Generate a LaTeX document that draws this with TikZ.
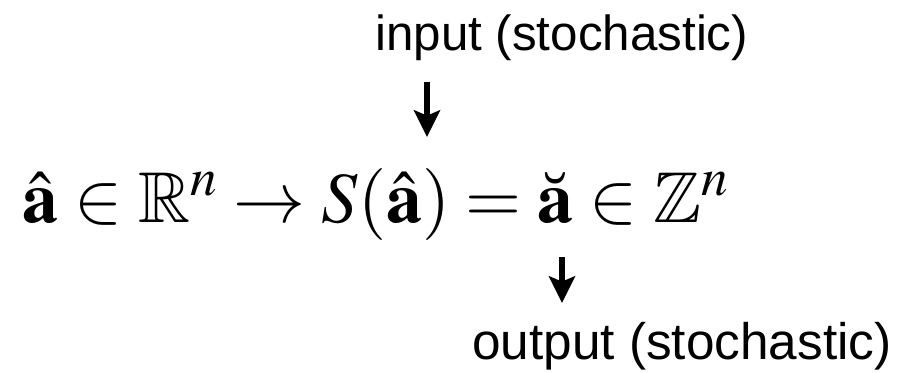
\documentclass[tikz,border=0pt]{standalone}
\usepackage{amsmath,amssymb}
\usepackage{mathptmx}
\usepackage[no-math]{fontspec}
\newfontfamily\labelfont{Liberation Sans}
\usetikzlibrary{arrows.meta,positioning}

\begin{document}
\begin{tikzpicture}[x=0.75pt, y=-0.75pt, >={Stealth[length=20pt,width=19.5pt,inset=4pt]},
    every node/.style={inner sep=0pt},
    lbl/.style={font=\labelfont, anchor=base west},
    flow/.style={->, line width=4pt}]
    \useasboundingbox (0,0) rectangle (906,372);

    % Labels
    \node[lbl, font=\labelfont\fontsize{37}{44}\selectfont] (inlbl) at (375,50) {input (stochastic)};
    \node[lbl, font=\labelfont\fontsize{38.5}{46}\selectfont] (outlbl) at (472,359) {output (stochastic)};

    % Formula
    \node[anchor=base west, font=\fontsize{54}{65}\selectfont] (map) at (22,222)
      {$\hat{\mathbf{a}}\in\mathbb{R}^n\to S(\hat{\mathbf{a}})=\breve{\mathbf{a}}\in\mathbb{Z}^n$};

    % Arrows
    \coordinate (instart) at (427,82);
    \coordinate (inend) at (427,137);
    \coordinate (outstart) at (562,257);
    \coordinate (outend) at (562,303);
    \draw[flow] (instart) -- (inend);
    \draw[flow] (outstart) -- (outend);
\end{tikzpicture}
\end{document}
